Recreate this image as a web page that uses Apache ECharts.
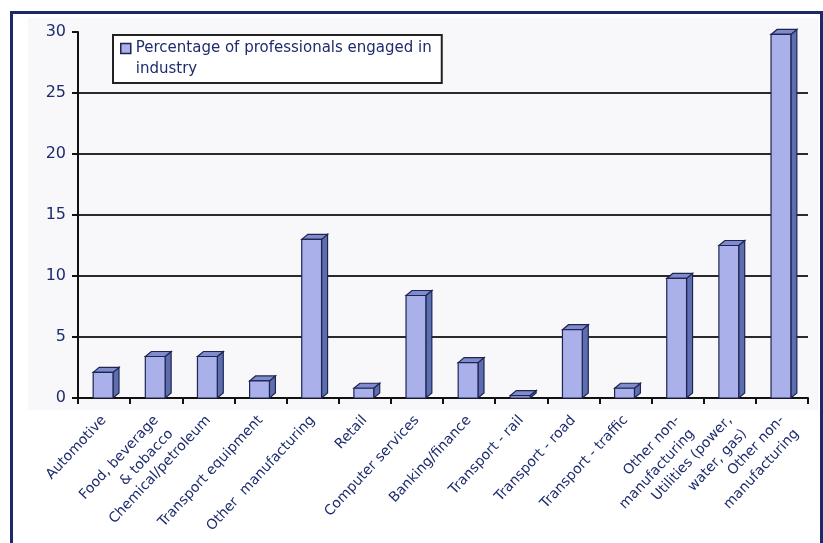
<!DOCTYPE html>
<html><head><meta charset="utf-8">
<script src="https://cdn.jsdelivr.net/npm/echarts@6/dist/echarts.min.js"></script>
<style>
html,body{margin:0;padding:0;background:#fff;}
#frame{position:absolute;left:10px;top:11px;width:807px;height:540px;border:3px solid #1b2a6b;}
#c{position:absolute;left:0;top:0;width:823px;height:543px;}
</style></head><body>
<div id="frame"></div>
<div id="c"></div>
<script>
const categories = ["Automotive","Food, beverage\n& tobacco","Chemical/petroleum","Transport equipment","Other  manufacturing","Retail","Computer services","Banking/finance","Transport - rail","Transport - road","Transport - traffic","Other non-\nmanufacturing","Utilities (power,\nwater, gas)","Other non-\nmanufacturing"];
const values = [2.1, 3.4, 3.4, 1.4, 13.0, 0.8, 8.4, 2.9, 0.2, 5.6, 0.8, 9.8, 12.5, 29.8];
const yTicks = [0,5,10,15,20,25,30];
const seriesName = "Percentage of professionals engaged in\nindustry";

const navy = '#1e2b6e';
const chart = echarts.init(document.getElementById('c'));
chart.setOption({
  animation:false,
  graphic:[{type:'rect',left:28,top:18,z:-10,silent:true,shape:{width:790,height:392},style:{fill:'#f8f8fa'}}],
  grid:{left:78,right:15,top:32,bottom:145,show:false},
  legend:{
    left:113, top:35, orient:'vertical',
    backgroundColor:'#fff', borderColor:'#222', borderWidth:2, borderRadius:0,
    padding:[3,10,3,7],
    itemWidth:10,itemHeight:31,itemGap:4,
    textStyle:{color:navy,fontFamily:'DejaVu Sans',fontSize:15,lineHeight:21},
    data:[{name:seriesName,icon:'path://M0,0h10v10h-10zM0,31',itemStyle:{color:'#a9b0ea',borderColor:'#1e2550',borderWidth:1.5}}]
  },
  xAxis:{
    type:'category', data:categories,
    axisLine:{lineStyle:{color:'#111',width:2}},
    axisTick:{show:true,alignWithLabel:false,length:6,lineStyle:{color:'#111',width:2}},
    axisLabel:{rotate:47,interval:0,color:navy,fontFamily:'DejaVu Sans',fontSize:14,margin:20,lineHeight:20,
      formatter:v=>v.indexOf('\n')>=0?'\n'+v:v}
  },
  yAxis:{
    type:'value',min:0,max:30,interval:5,
    axisLine:{show:true,lineStyle:{color:'#111',width:2}},
    axisTick:{show:true,inside:false,length:6,lineStyle:{color:'#111',width:2}},
    axisLabel:{color:navy,fontFamily:'DejaVu Sans',fontSize:16,margin:12,
      formatter:v=>yTicks.includes(v)?String(v):''},
    splitLine:{show:true,showMaxLine:false,lineStyle:{color:'#2a2a2a',width:2}}
  },
  series:[{
    name:seriesName,type:'custom',
    itemStyle:{color:'#a9b0ea'},
    data:values.map((v,i)=>[i,v]),
    encode:{x:0,y:1},
    renderItem:function(params,api){
      const i=api.value(0), v=api.value(1);
      const b=api.coord([i,0]), t=api.coord([i,v]);
      const cw=api.size([1,0])[0];
      const fw=cw*0.38, dx=6, dy=5;
      const x0=b[0]-fw*0.55, x1=x0+fw, y0=t[1], y1=b[1];
      const edge='#1e2550';
      return {type:'group',children:[
        {type:'polygon',shape:{points:[[x1,y0],[x1+dx,y0-dy],[x1+dx,y1-dy],[x1,y1]]},
          style:{fill:'#5d6eb0',stroke:edge,lineWidth:1.2}},
        {type:'polygon',shape:{points:[[x0,y0],[x0+dx,y0-dy],[x1+dx,y0-dy],[x1,y0]]},
          style:{fill:'#7f8bcc',stroke:edge,lineWidth:1.2}},
        {type:'rect',shape:{x:x0,y:y0,width:fw,height:y1-y0},
          style:{fill:'#a9b0ea',stroke:edge,lineWidth:1.2}}
      ]};
    }
  }]
});
</script></body></html>
